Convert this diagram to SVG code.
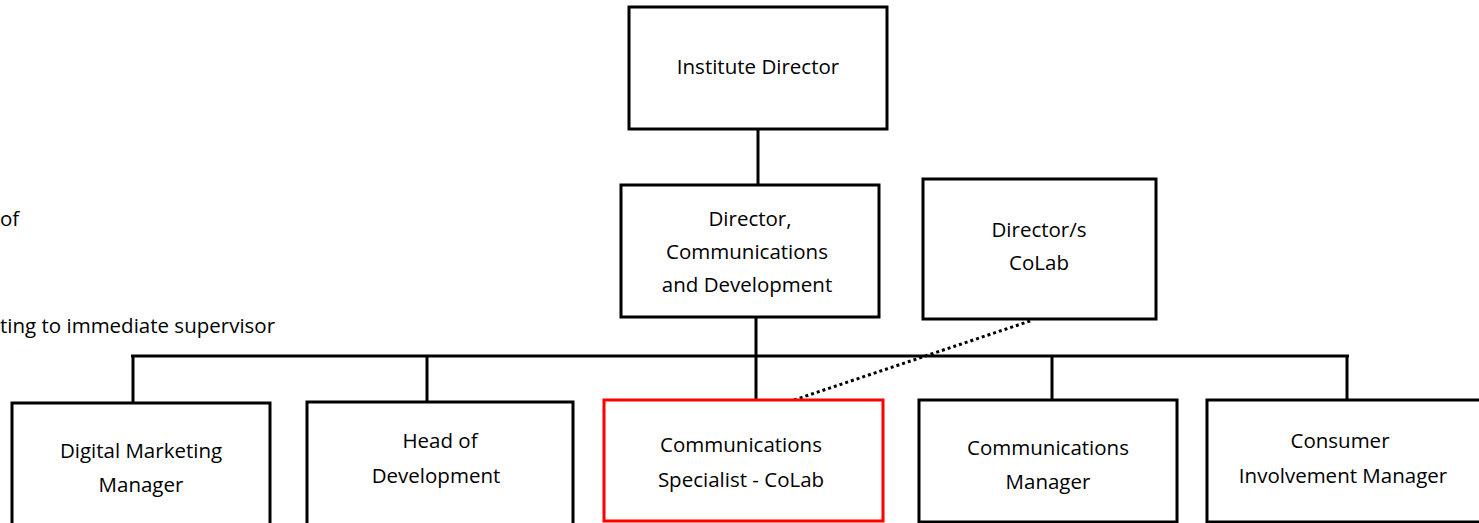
<svg xmlns="http://www.w3.org/2000/svg" width="1479" height="523" viewBox="0 0 1479 523">
<style>
.box{fill:#fff;stroke:#000;stroke-width:3}
.hl{fill:#fff;stroke:#ff0000;stroke-width:3}
.ln{fill:none;stroke:#000;stroke-width:3}
.dot{fill:none;stroke:#000;stroke-width:3;stroke-dasharray:3 3}
text{font-family:"Open Sans","Liberation Sans",Arial,sans-serif;font-size:20.5px;fill:#000;text-anchor:middle}
.lg{text-anchor:start}
</style>
<rect width="1479" height="523" fill="#fff"/>
<g id="legend">
<text class="lg" x="0" y="226">of</text>
<text class="lg" x="0" y="333">ting to immediate supervisor</text>
</g>
<g id="connectors">
<line class="ln" x1="758" y1="129" x2="758" y2="185"/>
<line class="ln" x1="756" y1="317" x2="756" y2="400"/>
<line class="ln" x1="131" y1="356" x2="1349" y2="356"/>
<line class="ln" x1="133" y1="356" x2="133" y2="403"/>
<line class="ln" x1="427" y1="356" x2="427" y2="402"/>
<line class="ln" x1="1052" y1="356" x2="1052" y2="400"/>
<line class="ln" x1="1347" y1="356" x2="1347" y2="400"/>
<line class="dot" x1="794" y1="400" x2="1033" y2="320"/>
</g>
<g id="institute-director">
<rect class="box" x="629" y="7" width="258" height="122"/>
<text x="758" y="74">Institute Director</text>
</g>
<g id="director-comms">
<rect class="box" x="621" y="185" width="258" height="132"/>
<text x="750" y="226">Director,</text>
<text x="747" y="259">Communications</text>
<text x="747" y="292">and Development</text>
</g>
<g id="director-colab">
<rect class="box" x="923" y="179" width="233" height="140"/>
<text x="1039" y="237">Director/s</text>
<text x="1039" y="270">CoLab</text>
</g>
<g id="digital-marketing">
<rect class="box" x="12" y="403" width="258" height="125"/>
<text x="141" y="458">Digital Marketing</text>
<text x="141" y="492">Manager</text>
</g>
<g id="head-development">
<rect class="box" x="307" y="402" width="266" height="125"/>
<text x="440" y="448">Head of</text>
<text x="436" y="483">Development</text>
</g>
<g id="comms-specialist">
<rect class="hl" x="604" y="400" width="279" height="121"/>
<text x="741" y="452">Communications</text>
<text x="741" y="487">Specialist - CoLab</text>
</g>
<g id="comms-manager">
<rect class="box" x="919" y="400" width="258" height="122"/>
<text x="1048" y="455">Communications</text>
<text x="1048" y="489">Manager</text>
</g>
<g id="consumer-involvement">
<rect class="box" x="1207" y="400" width="275" height="122"/>
<text x="1340" y="448">Consumer</text>
<text x="1343" y="483">Involvement Manager</text>
</g>
</svg>
